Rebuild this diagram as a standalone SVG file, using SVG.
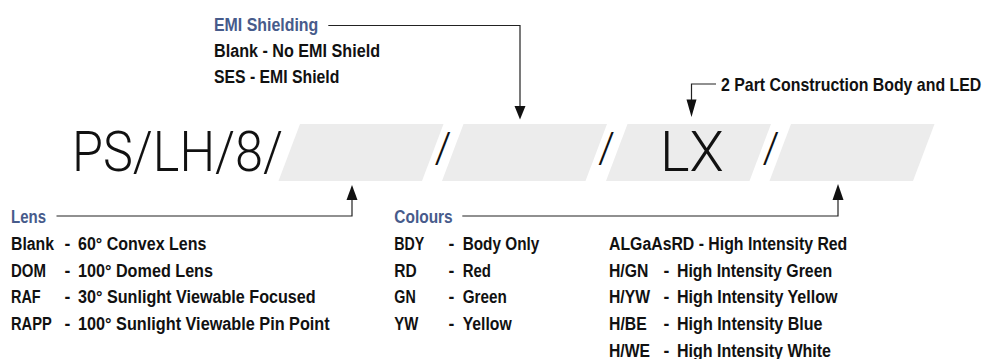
<svg xmlns="http://www.w3.org/2000/svg" width="987" height="359" viewBox="0 0 987 359">
<style>
  .t { font-family: "Liberation Sans", Arial, sans-serif; font-weight: bold; font-size: 17.5px; fill: #111; }
  .h { fill: #475b8b; }
  .big { font-family: Roboto, "Liberation Sans", sans-serif; font-weight: 300; font-size: 56px; fill: #111; }
  .sl { font-family: Roboto, "Liberation Sans", sans-serif; font-weight: 300; font-size: 43px; fill: #111; }
  .band { fill: #ececec; }
  .conn { fill: none; stroke: #222; stroke-width: 1.2; }
  .head { fill: #111; }
</style>
<rect width="987" height="359" fill="#fff"/>

<g id="code">
  <polygon class="band" points="300,124 443.5,124 422,181 278.5,181"/>
  <polygon class="band" points="463.5,124 607,124 585.5,181 442,181"/>
  <polygon class="band" points="627.5,124 771,124 749.5,181 606,181"/>
  <polygon class="band" points="791,124 934.5,124 913,181 769.5,181"/>
  <text class="big" x="72" y="170.7" textLength="211" lengthAdjust="spacingAndGlyphs">PS/LH/8/</text>
  <text class="sl" x="443" y="162" text-anchor="middle">/</text>
  <text class="sl" x="606.5" y="162" text-anchor="middle">/</text>
  <text class="big" x="692" y="170.7" text-anchor="middle">LX</text>
  <text class="sl" x="771" y="162" text-anchor="middle">/</text>
</g>

<g id="emi">
  <text class="t h" x="214" y="31" textLength="104.3" lengthAdjust="spacingAndGlyphs">EMI Shielding</text>
  <text class="t" x="214" y="57" textLength="166" lengthAdjust="spacingAndGlyphs">Blank - No EMI Shield</text>
  <text class="t" x="214" y="83" textLength="125.3" lengthAdjust="spacingAndGlyphs">SES - EMI Shield</text>
</g>

<g id="construction">
  <text class="t" transform="translate(721,90.5) scale(0.908,1)">2 Part Construction Body and LED</text>
</g>

<g id="lens">
  <text class="t h" x="11" y="223" textLength="35" lengthAdjust="spacingAndGlyphs">Lens</text>
  <text class="t" x="11" y="250" textLength="43" lengthAdjust="spacingAndGlyphs">Blank</text>
  <text class="t" x="11" y="276.7" textLength="35" lengthAdjust="spacingAndGlyphs">DOM</text>
  <text class="t" x="11" y="303.3" textLength="29.7" lengthAdjust="spacingAndGlyphs">RAF</text>
  <text class="t" x="11" y="330" textLength="40.7" lengthAdjust="spacingAndGlyphs">RAPP</text>
  <text class="t" x="64.5" y="250">-</text>
  <text class="t" x="64.5" y="276.7">-</text>
  <text class="t" x="64.5" y="303.3">-</text>
  <text class="t" x="64.5" y="330">-</text>
  <text class="t" x="78" y="250" textLength="128.4" lengthAdjust="spacingAndGlyphs">60° Convex Lens</text>
  <text class="t" x="78" y="276.7" textLength="135" lengthAdjust="spacingAndGlyphs">100° Domed Lens</text>
  <text class="t" x="78" y="303.3" textLength="237.7" lengthAdjust="spacingAndGlyphs">30° Sunlight Viewable Focused</text>
  <text class="t" x="78" y="330" textLength="251.7" lengthAdjust="spacingAndGlyphs">100° Sunlight Viewable Pin Point</text>
</g>

<g id="colours">
  <text class="t h" x="394.3" y="223" textLength="58.4" lengthAdjust="spacingAndGlyphs">Colours</text>
  <text class="t" x="394.3" y="250" textLength="30" lengthAdjust="spacingAndGlyphs">BDY</text>
  <text class="t" x="394.3" y="276.7" textLength="22.4" lengthAdjust="spacingAndGlyphs">RD</text>
  <text class="t" x="394.3" y="303.3" textLength="21.4" lengthAdjust="spacingAndGlyphs">GN</text>
  <text class="t" x="394.3" y="330" textLength="24" lengthAdjust="spacingAndGlyphs">YW</text>
  <text class="t" x="448.5" y="250">-</text>
  <text class="t" x="448.5" y="276.7">-</text>
  <text class="t" x="448.5" y="303.3">-</text>
  <text class="t" x="448.5" y="330">-</text>
  <text class="t" x="462.7" y="250" textLength="76.6" lengthAdjust="spacingAndGlyphs">Body Only</text>
  <text class="t" x="462.7" y="276.7" textLength="28.3" lengthAdjust="spacingAndGlyphs">Red</text>
  <text class="t" x="462.7" y="303.3" textLength="44" lengthAdjust="spacingAndGlyphs">Green</text>
  <text class="t" x="462.7" y="330" textLength="49" lengthAdjust="spacingAndGlyphs">Yellow</text>
  <text class="t" x="609" y="250" textLength="238.3" lengthAdjust="spacingAndGlyphs">ALGaAsRD - High Intensity Red</text>
  <text class="t" x="609" y="276.7" textLength="39.3" lengthAdjust="spacingAndGlyphs">H/GN</text>
  <text class="t" x="609" y="303.3" textLength="41" lengthAdjust="spacingAndGlyphs">H/YW</text>
  <text class="t" x="609" y="330" textLength="37.7" lengthAdjust="spacingAndGlyphs">H/BE</text>
  <text class="t" x="609" y="356.7" textLength="41" lengthAdjust="spacingAndGlyphs">H/WE</text>
  <text class="t" x="663.5" y="276.7">-</text>
  <text class="t" x="663.5" y="303.3">-</text>
  <text class="t" x="663.5" y="330">-</text>
  <text class="t" x="663.5" y="356.7">-</text>
  <text class="t" x="677" y="276.7" textLength="155.2" lengthAdjust="spacingAndGlyphs">High Intensity Green</text>
  <text class="t" x="677" y="303.3" textLength="160.6" lengthAdjust="spacingAndGlyphs">High Intensity Yellow</text>
  <text class="t" x="677" y="330" textLength="145.5" lengthAdjust="spacingAndGlyphs">High Intensity Blue</text>
  <text class="t" x="677" y="356.7" textLength="154" lengthAdjust="spacingAndGlyphs">High Intensity White</text>
</g>

<g id="connectors">
  <path class="conn" d="M328.3,25.5 H520 V107"/>
  <polygon class="head" points="514.5,106 525.5,106 520,119.5"/>
  <path class="conn" d="M716,84 H691.5 V100"/>
  <polygon class="head" points="686.5,99.5 696.5,99.5 691.5,117"/>
  <path class="conn" d="M56.5,216 H352 V199"/>
  <polygon class="head" points="346.5,200 357.5,200 352,185"/>
  <path class="conn" d="M462.3,216 H838 V199"/>
  <polygon class="head" points="832.5,200 843.5,200 838,184"/>
</g>
</svg>
